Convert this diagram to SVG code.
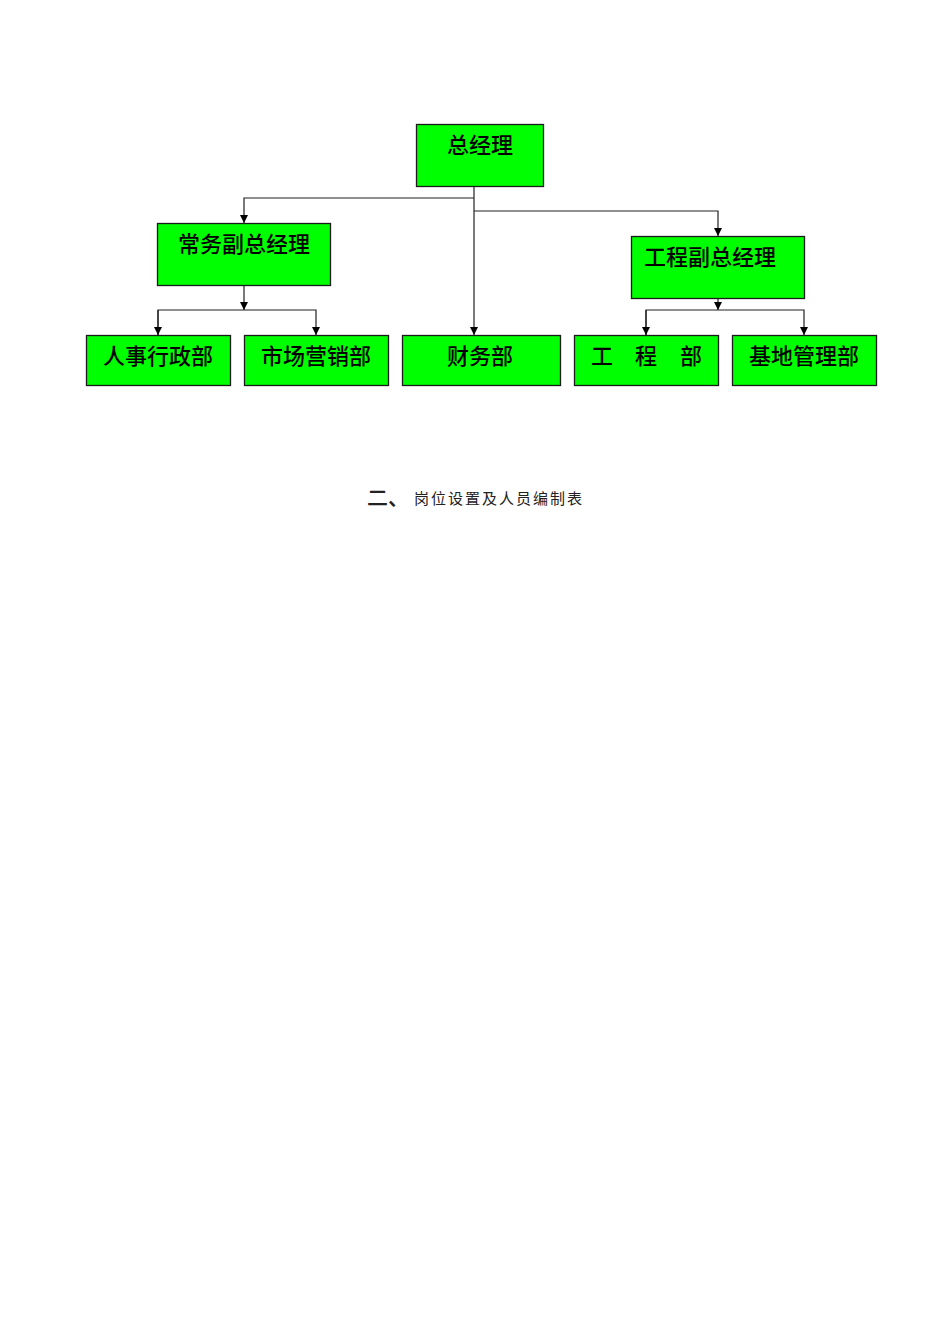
<svg xmlns="http://www.w3.org/2000/svg" width="950" height="1344" viewBox="0 0 950 1344">
<style>
.box{fill:#00ff00;stroke:#1a1a1a;stroke-width:1.3}
.lbl{font-family:"Noto Sans CJK SC","Noto Sans",sans-serif;font-size:22px;font-weight:500;fill:#000;text-anchor:middle}
.ln{fill:none;stroke:#222;stroke-width:1.2}
.cap{font-family:"Noto Sans CJK SC","Noto Sans",sans-serif;fill:#222}
</style>
<defs>
<marker id="ah" viewBox="0 0 10 10" refX="10" refY="5" markerWidth="8" markerHeight="8" markerUnits="userSpaceOnUse" orient="auto">
<path d="M0,0 L10,5 L0,10 z" fill="#000"/>
</marker>
</defs>
<rect width="950" height="1344" fill="#fff"/>
<g id="connectors">
<path class="ln" d="M474,186 V335" marker-end="url(#ah)"/>
<path class="ln" d="M474,198 H244 V223" marker-end="url(#ah)"/>
<path class="ln" d="M474,211 H718 V236" marker-end="url(#ah)"/>
<path class="ln" d="M244,286 V310" marker-end="url(#ah)"/>
<path class="ln" d="M158,335 V310 H316 V335" marker-end="url(#ah)"/>
<path class="ln" d="M158,310 V335" marker-end="url(#ah)"/>
<path class="ln" d="M718,298 V310" marker-end="url(#ah)"/>
<path class="ln" d="M646,335 V310 H804 V335" marker-end="url(#ah)"/>
<path class="ln" d="M646,310 V335" marker-end="url(#ah)"/>
</g>
<g id="n-zjl"><rect class="box" x="416.5" y="124.5" width="127" height="62"/><text class="lbl" x="480" y="153">总经理</text></g>
<g id="n-cwfzjl"><rect class="box" x="157.5" y="223.5" width="173" height="62"/><text class="lbl" x="244" y="252">常务副总经理</text></g>
<g id="n-gcfzjl"><rect class="box" x="631.5" y="236.5" width="173" height="62"/><text class="lbl" x="710" y="265">工程副总经理</text></g>
<g id="n-rsxzb"><rect class="box" x="86.5" y="335.5" width="144" height="50"/><text class="lbl" x="158" y="364">人事行政部</text></g>
<g id="n-scyxb"><rect class="box" x="244.5" y="335.5" width="144" height="50"/><text class="lbl" x="316" y="364">市场营销部</text></g>
<g id="n-cwb"><rect class="box" x="402.5" y="335.5" width="158" height="50"/><text class="lbl" x="480" y="364">财务部</text></g>
<g id="n-gcb"><rect class="box" x="574.5" y="335.5" width="144" height="50"/><text class="lbl" y="364"><tspan x="602">工</tspan><tspan x="646">程</tspan><tspan x="691">部</tspan></text></g>
<g id="n-jdglb"><rect class="box" x="732.5" y="335.5" width="144" height="50"/><text class="lbl" x="804" y="364">基地管理部</text></g>
<text class="cap" x="367" y="505" font-size="21" font-weight="500">二、</text>
<text class="cap" x="414" y="504" font-size="15" textLength="168" lengthAdjust="spacing">岗位设置及人员编制表</text>
</svg>
